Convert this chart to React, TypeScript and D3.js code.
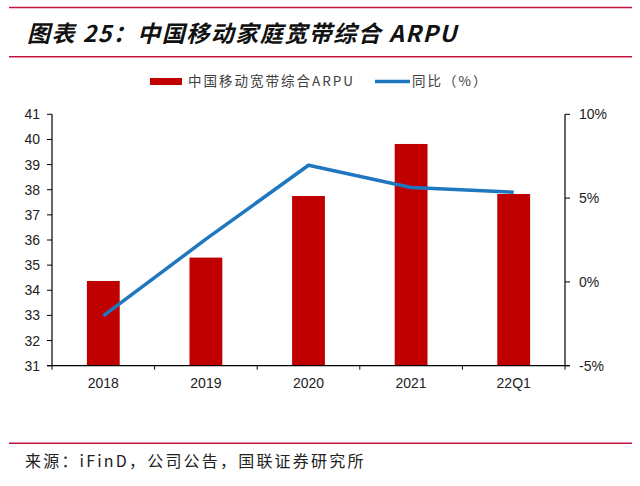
import React from "react";
import * as d3 from "d3";

const categories = ["2018", "2019", "2020", "2021", "22Q1"];
const arpuValues = [34.37, 35.3, 37.75, 39.82, 37.83];
const yoyValues = [-2.03, 2.55, 6.96, 5.63, 5.35];
const leftTicks = [31, 32, 33, 34, 35, 36, 37, 38, 39, 40, 41];
const rightTicks = [-5, 0, 5, 10];

const W = 640;
const H = 486;
const M = { left: 52, right: 565, top: 114.3, bottom: 365.7 };

export default function App() {
  const x = d3
    .scaleBand<string>()
    .domain(categories)
    .range([M.left, M.right])
    .paddingInner(0.68)
    .paddingOuter(0.34);
  const band = d3.scaleBand<string>().domain(categories).range([M.left, M.right]);
  const yL = d3.scaleLinear().domain([31, 41]).range([M.bottom, M.top]);
  const yR = d3.scaleLinear().domain([-5, 10]).range([M.bottom, M.top]);
  const line = d3
    .line<number>()
    .x((_, i) => (band(categories[i]) as number) + band.bandwidth() / 2)
    .y((d) => yR(d));

  const font = "'Liberation Sans', Arial, sans-serif";
  const cjk = "'Noto Sans CJK SC', 'Liberation Sans', sans-serif";
  const red = "#c0143c";

  const boundaries = categories.map((c) => band(c) as number).concat([M.right]);

  return (
    <svg
      width={W}
      height={H}
      style={{ position: "absolute", left: 0, top: 0, background: "#fff" }}
    >
      {/* header lines */}
      <line x1={9} x2={632} y1={7.5} y2={7.5} stroke={red} strokeWidth={1.6} />
      <text
        x={27}
        y={42}
        fontFamily={cjk}
        fontSize={23}
        fontStyle="italic"
        fontWeight={700}
        letterSpacing={1.5}
        fill="#111"
      >
        图表 25：中国移动家庭宽带综合 ARPU
      </text>
      <line x1={9} x2={632} y1={56.8} y2={56.8} stroke={red} strokeWidth={1.6} />

      {/* legend */}
      <rect x={150} y={78} width={32} height={7} fill="#c00000" />
      <text x={188} y={86} fontFamily={cjk} fontSize={13.5} letterSpacing={2} fill="#404040">
        中国移动宽带综合ARPU
      </text>
      <line x1={375} x2={410} y1={81.5} y2={81.5} stroke="#1f77c0" strokeWidth={3.5} />
      <text x={412} y={86} fontFamily={cjk} fontSize={13.5} letterSpacing={2} fill="#404040">
        同比（%）
      </text>

      {/* bars */}
      {categories.map((c, i) => (
        <rect
          key={c}
          x={x(c)}
          y={yL(arpuValues[i])}
          width={x.bandwidth()}
          height={M.bottom - yL(arpuValues[i])}
          fill="#c00000"
        />
      ))}

      {/* line */}
      <path
        d={line(yoyValues) || ""}
        fill="none"
        stroke="#1f77c0"
        strokeWidth={3.5}
        strokeLinejoin="round"
      />

      {/* left axis */}
      <line x1={M.left} x2={M.left} y1={M.top} y2={M.bottom} stroke="#000" strokeWidth={1.2} />
      {leftTicks.map((t) => (
        <g key={t}>
          <line x1={M.left - 5} x2={M.left} y1={yL(t)} y2={yL(t)} stroke="#000" strokeWidth={1} />
          <text
            x={40}
            y={yL(t) + 5}
            textAnchor="end"
            fontFamily={font}
            fontSize={14}
            fill="#222"
          >
            {t}
          </text>
        </g>
      ))}

      {/* right axis */}
      <line x1={M.right} x2={M.right} y1={M.top} y2={M.bottom} stroke="#000" strokeWidth={1.2} />
      {rightTicks.map((t) => (
        <g key={t}>
          <line x1={M.right} x2={M.right + 5} y1={yR(t)} y2={yR(t)} stroke="#000" strokeWidth={1} />
          <text
            x={579}
            y={yR(t) + 5}
            textAnchor="start"
            fontFamily={font}
            fontSize={14}
            fill="#222"
          >
            {t + "%"}
          </text>
        </g>
      ))}

      {/* x axis */}
      <line x1={M.left - 5} x2={M.right + 5} y1={M.bottom} y2={M.bottom} stroke="#000" strokeWidth={1.2} />
      {boundaries.map((b, i) => (
        <line key={i} x1={b} x2={b} y1={M.bottom} y2={M.bottom + 4} stroke="#000" strokeWidth={1} />
      ))}
      {categories.map((c) => (
        <text
          key={c}
          x={(band(c) as number) + band.bandwidth() / 2}
          y={388}
          textAnchor="middle"
          fontFamily={font}
          fontSize={14}
          fill="#222"
        >
          {c}
        </text>
      ))}

      {/* source */}
      <line x1={9} x2={632} y1={443.3} y2={443.3} stroke={red} strokeWidth={1.6} />
      <text x={25} y={467} fontFamily={cjk} fontSize={16} letterSpacing={2.2} fill="#222">
        来源：iFinD，公司公告，国联证券研究所
      </text>
    </svg>
  );
}
